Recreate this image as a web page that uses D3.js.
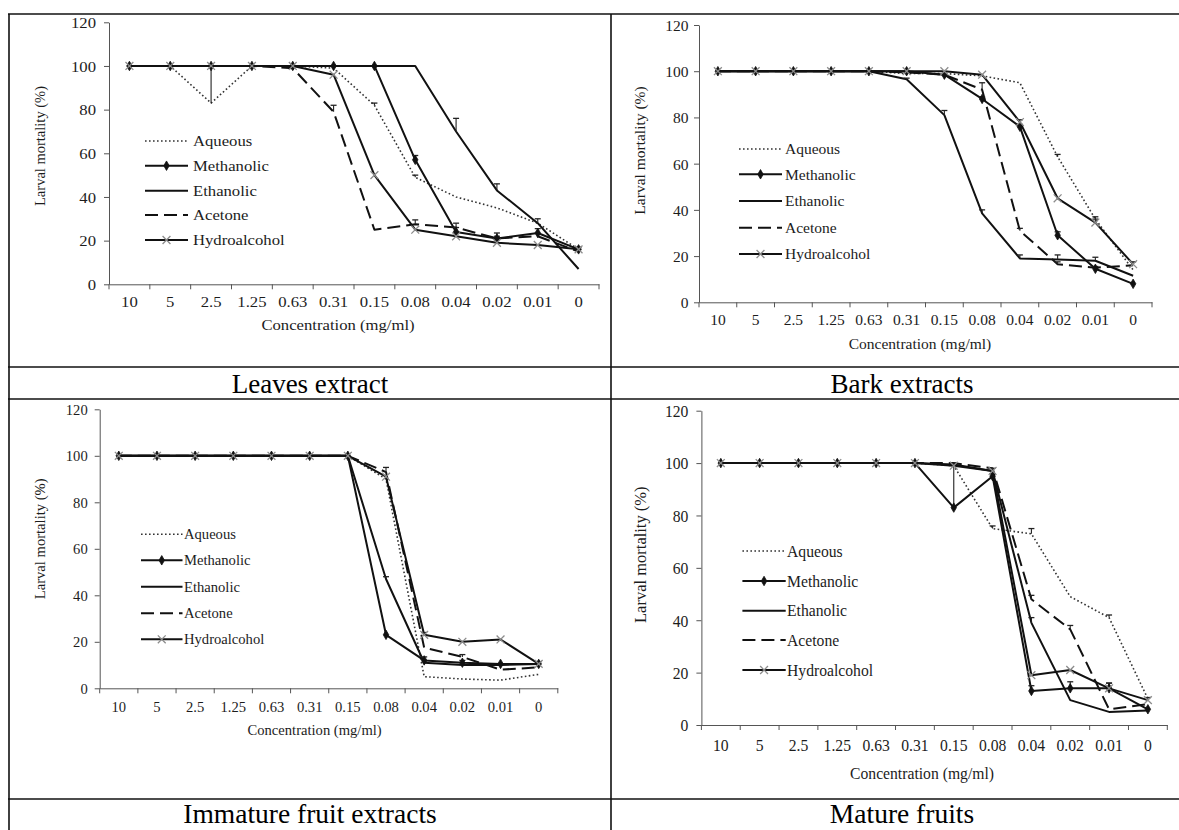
<!DOCTYPE html>
<html>
<head>
<meta charset="utf-8">
<script src="https://cdn.jsdelivr.net/npm/d3@7"></script>
<style>
  html, body { margin: 0; padding: 0; background: #fff; }
  svg { display: block; }
</style>
</head>
<body>
<svg id="chart" width="1179" height="830"></svg>
<script>
// ---- shared labels ----
const categories = ["10", "5", "2.5", "1.25", "0.63", "0.31", "0.15", "0.08", "0.04", "0.02", "0.01", "0"];
const yTickValues = [0, 20, 40, 60, 80, 100, 120];
const seriesNames = ["Aqueous", "Methanolic", "Ethanolic", "Acetone", "Hydroalcohol"];
const panelTitles = ["Leaves extract", "Bark extracts", "Immature fruit extracts", "Mature fruits"];
const yAxisTitle = "Larval mortality (%)";
const xAxisTitle = "Concentration (mg/ml)";

// ---- Leaves extract: larval mortality (%) ----
const leavesAqueous      = [100, 100, 83, 100, 100, 99, 82, 49, 40, 35, 28, 16];
const leavesMethanolic   = [100, 100, 100, 100, 100, 100, 100, 57, 24, 21, 23.5, 16];
const leavesEthanolic    = [100, 100, 100, 100, 100, 100, 100, 100, 70, 43, 28, 7];
const leavesAcetone      = [100, 100, 100, 100, 99, 79, 25, 27.5, 26, 21, 22, 15];
const leavesHydroalcohol = [100, 100, 100, 100, 100, 96, 50, 25, 22, 19, 18, 16];
const leavesAqueousErr      = [0, 0, 17, 0, 0, 0, 1, 1, 0, 0, 0, 0];
const leavesMethanolicErr   = [0, 0, 0, 0, 0, 0, 0, 2, 2, 2.5, 2, 1];
const leavesEthanolicErr    = [0, 0, 0, 0, 0, 0, 0, 0, 6, 3, 2, 0];
const leavesAcetoneErr      = [0, 0, 0, 0, 0, 3, 0, 2, 2, 1, 0, 0];
const leavesHydroalcoholErr = [0, 0, 0, 0, 0, 0, 0, 0, 0, 0, 0, 0];

// ---- Bark extracts ----
const barkAqueous      = [100, 100, 100, 100, 100, 99, 99, 98, 95, 63, 36, 14];
const barkMethanolic   = [100, 100, 100, 100, 100, 100, 98.5, 88, 76, 29, 14.5, 8];
const barkEthanolic    = [100, 100, 100, 100, 100, 96.5, 81, 38.5, 19, 18.5, 18, 11.5];
const barkAcetone      = [100, 100, 100, 100, 100, 99.5, 98.5, 92, 31, 16.5, 15, 16];
const barkHydroalcohol = [100, 100, 100, 100, 100, 100, 100, 98.5, 78, 45, 34.5, 16.5];
const barkAqueousErr      = [0, 0, 0, 0, 0, 0, 0, 0, 0, 1, 1, 0];
const barkMethanolicErr   = [0, 0, 0, 0, 0, 0, 0, 1, 1, 1.5, 1, 0];
const barkEthanolicErr    = [0, 0, 0, 0, 0, 0.5, 2, 1.5, 1.5, 2, 1.5, 0];
const barkAcetoneErr      = [0, 0, 0, 0, 0, 0, 0, 3, 1, 1, 0, 0];
const barkHydroalcoholErr = [0, 0, 0, 0, 0, 0, 0, 0, 1, 0, 1.5, 1];

// ---- Immature fruit extracts ----
const immatureAqueous      = [100, 100, 100, 100, 100, 100, 100, 90, 5, 4, 3.5, 6];
const immatureMethanolic   = [100, 100, 100, 100, 100, 100, 100, 23, 12, 11, 10.5, 10.5];
const immatureEthanolic    = [100, 100, 100, 100, 100, 100, 100, 47, 11, 10, 10, 10.5];
const immatureAcetone      = [100, 100, 100, 100, 100, 100, 100, 93, 17.5, 13.5, 8, 9];
const immatureHydroalcohol = [100, 100, 100, 100, 100, 100, 100, 91, 23, 20, 21, 10.5];
const immatureAqueousErr      = [0, 0, 0, 0, 0, 0, 0, 0, 0, 0, 0, 0];
const immatureMethanolicErr   = [0, 0, 0, 0, 0, 0, 0, 0, 1.5, 1, 0, 1];
const immatureEthanolicErr    = [0, 0, 0, 0, 0, 0, 0, 1, 0, 0, 0, 0];
const immatureAcetoneErr      = [0, 0, 0, 0, 0, 0, 0, 2, 0, 1, 0, 0];
const immatureHydroalcoholErr = [0, 0, 0, 0, 0, 0, 0, 0, 1, 0, 0, 0];

// ---- Mature fruits ----
const matureAqueous      = [100, 100, 100, 100, 100, 100, 99, 75, 73, 49, 41, 10];
const matureMethanolic   = [100, 100, 100, 100, 100, 100, 83, 95, 13, 14, 14, 6];
const matureEthanolic    = [100, 100, 100, 100, 100, 100, 99.5, 97, 39, 9.5, 5, 5.5];
const matureAcetone      = [100, 100, 100, 100, 100, 100, 100, 98, 48, 36.5, 6, 8];
const matureHydroalcohol = [100, 100, 100, 100, 100, 100, 99, 97, 19, 21, 14, 9.5];
const matureAqueousErr      = [0, 0, 0, 0, 0, 0, 0, 1, 2, 0, 1, 0];
const matureMethanolicErr   = [0, 0, 0, 0, 0, 0, 17, 1, 2, 2.5, 2, 0];
const matureEthanolicErr    = [0, 0, 0, 0, 0, 0, 0, 1, 2, 0, 0, 0];
const matureAcetoneErr      = [0, 0, 0, 0, 0, 0, 0, 0, 1.5, 1.5, 0, 0];
const matureHydroalcoholErr = [0, 0, 0, 0, 0, 0, 0, 0, 0, 0, 2, 1];

// ---- assemble panels ----
function makeSeries(values, errors) {
  return seriesNames.map((name, i) => ({ name, values: values[i], errors: errors[i] }));
}
const panelSeries = [
  makeSeries([leavesAqueous, leavesMethanolic, leavesEthanolic, leavesAcetone, leavesHydroalcohol],
             [leavesAqueousErr, leavesMethanolicErr, leavesEthanolicErr, leavesAcetoneErr, leavesHydroalcoholErr]),
  makeSeries([barkAqueous, barkMethanolic, barkEthanolic, barkAcetone, barkHydroalcohol],
             [barkAqueousErr, barkMethanolicErr, barkEthanolicErr, barkAcetoneErr, barkHydroalcoholErr]),
  makeSeries([immatureAqueous, immatureMethanolic, immatureEthanolic, immatureAcetone, immatureHydroalcohol],
             [immatureAqueousErr, immatureMethanolicErr, immatureEthanolicErr, immatureAcetoneErr, immatureHydroalcoholErr]),
  makeSeries([matureAqueous, matureMethanolic, matureEthanolic, matureAcetone, matureHydroalcohol],
             [matureAqueousErr, matureMethanolicErr, matureEthanolicErr, matureAcetoneErr, matureHydroalcoholErr])
];

// ---- layout of each chart inside its table cell ----
const layout = [
  { left: 109, right: 599, top: 22.3, bottom: 284.3, font: 14.5, sx: 1.15,
    yTitle: [40, 146], xTitle: [338, 325], yGap: 13, xGap: 17.4,
    legendLine: [145, 188], legendText: 193, legendY: [141, 165.7, 190.7, 215, 240] },
  { left: 699, right: 1152, top: 25, bottom: 302.3, font: 15.5, sx: 1.0,
    yTitle: [640, 150.5], xTitle: [920, 343.3], yGap: 10.5, xGap: 17.7,
    legendLine: [739, 782], legendText: 785, legendY: [149, 174.3, 201, 227.7, 254] },
  { left: 99.7, right: 557.8, top: 409.3, bottom: 688.3, font: 14.6, sx: 1.0,
    yTitle: [39.5, 538.8], xTitle: [314.6, 730], yGap: 12, xGap: 18.4,
    legendLine: [141, 182.5], legendText: 184, legendY: [534.3, 560.3, 586.7, 613.3, 639.3] },
  { left: 701.4, right: 1167.3, top: 410.7, bottom: 725, font: 16.5, sx: 0.95,
    yTitle: [640, 554.7], xTitle: [922, 773.3], yGap: 13, xGap: 20,
    legendLine: [742.4, 785.7], legendText: 787, legendY: [551, 581, 610.7, 640, 670] }
];

const captions = [
  { x: 310, y: 383.8, size: 27 },
  { x: 902, y: 383.8, size: 27 },
  { x: 310, y: 813.5, size: 27.5 },
  { x: 902, y: 813.5, size: 27.5 }
];

const seriesStyle = {
  Aqueous:      { dash: "1.6 2.4", width: 1.6, color: "#333", marker: null },
  Methanolic:   { dash: null,      width: 2,   color: "#111", marker: "diamond" },
  Ethanolic:    { dash: null,      width: 2,   color: "#111", marker: null },
  Acetone:      { dash: "13 6",    width: 2,   color: "#111", marker: null },
  Hydroalcohol: { dash: null,      width: 2,   color: "#111", marker: "cross" }
};

const FONT = "'Liberation Serif', 'Times New Roman', Times, serif";
const TEXT = "#1c1c1c";
const svg = d3.select("#chart").style("font-family", FONT);
svg.append("rect").attr("width", 1179).attr("height", 830).attr("fill", "#fff");

// ---- table grid ----
const grid = svg.append("g").attr("stroke", "#111").attr("stroke-width", 1.6);
grid.append("line").attr("x1", 8).attr("x2", 1179).attr("y1", 14).attr("y2", 14);
[367, 399, 799].forEach(y => grid.append("line").attr("x1", 8).attr("x2", 1179).attr("y1", y).attr("y2", y));
grid.append("line").attr("x1", 9).attr("x2", 9).attr("y1", 14).attr("y2", 830);
grid.append("line").attr("x1", 611).attr("x2", 611).attr("y1", 14).attr("y2", 830);

captions.forEach((c, i) => {
  svg.append("text")
    .attr("x", c.x).attr("y", c.y).attr("dy", "0.35em")
    .attr("text-anchor", "middle")
    .attr("font-size", c.size).attr("fill", "#000")
    .text(panelTitles[i]);
});

// ---- marker helpers ----
function drawMarker(g, kind, x, y) {
  if (kind === "diamond") {
    g.append("path")
      .attr("d", d3.symbol(d3.symbolDiamond, 26)())
      .attr("transform", `translate(${x},${y})`)
      .attr("fill", "#111").attr("stroke", "#111").attr("stroke-width", 0.8);
  } else if (kind === "cross") {
    g.append("path")
      .attr("d", d3.symbol(d3.symbolX, 42)())
      .attr("transform", `translate(${x},${y})`)
      .attr("fill", "none").attr("stroke", "#8c8c8c").attr("stroke-width", 1.3);
  }
}

function stretched(g, x, y, str, size, sx, anchor) {
  return g.append("text")
    .attr("transform", `translate(${x},${y}) scale(${sx},1)`)
    .attr("dy", "0.35em")
    .attr("text-anchor", anchor)
    .attr("font-size", size)
    .attr("fill", TEXT)
    .text(str);
}

// ---- draw each chart ----
layout.forEach((L, p) => {
  const g = svg.append("g");
  const x = d3.scaleBand().domain(categories).range([L.left, L.right]).paddingInner(0).paddingOuter(0);
  const y = d3.scaleLinear().domain([0, 120]).range([L.bottom, L.top]);
  const cx = c => x(c) + x.bandwidth() / 2;

  // y axis
  const yAxis = g.append("g")
    .attr("transform", `translate(${L.left},0)`)
    .call(d3.axisLeft(y).tickValues(yTickValues).tickSize(5).tickSizeOuter(0));
  yAxis.select(".domain").attr("stroke", "#555");
  yAxis.selectAll(".tick line").attr("stroke", "#555");
  yAxis.selectAll(".tick text")
    .attr("x", -L.yGap / L.sx).attr("dy", "0.35em")
    .attr("transform", `scale(${L.sx},1)`)
    .attr("font-size", L.font).attr("font-family", FONT).attr("fill", TEXT);

  // x axis: labels at category centres, ticks at category boundaries
  const xAxis = g.append("g")
    .attr("transform", `translate(0,${L.bottom})`)
    .call(d3.axisBottom(x).tickSize(0).tickSizeOuter(0));
  xAxis.select(".domain").attr("stroke", "#555");
  xAxis.selectAll(".tick text")
    .attr("y", L.xGap).attr("dy", "0.35em")
    .attr("transform", `scale(${L.sx},1)`)
    .attr("font-size", L.font).attr("font-family", FONT).attr("fill", TEXT);
  const bounds = categories.map(c => x(c)).concat([x.range()[1]]);
  g.append("g").selectAll("line").data(bounds).join("line")
    .attr("x1", d => d).attr("x2", d => d)
    .attr("y1", L.bottom).attr("y2", L.bottom + 5)
    .attr("stroke", "#555");

  // axis titles
  g.append("text")
    .attr("transform", `translate(${L.yTitle[0]},${L.yTitle[1]}) rotate(-90)`)
    .attr("dy", "0.35em").attr("text-anchor", "middle")
    .attr("font-size", L.font).attr("fill", TEXT)
    .text(yAxisTitle);
  stretched(g, L.xTitle[0], L.xTitle[1], xAxisTitle, L.font, L.sx, "middle");

  // series lines
  const series = panelSeries[p];
  const line = d3.line().x((d, i) => cx(categories[i])).y(d => y(d));
  series.forEach(s => {
    const st = seriesStyle[s.name];
    g.append("path")
      .datum(s.values)
      .attr("d", line)
      .attr("fill", "none")
      .attr("stroke", st.color)
      .attr("stroke-width", st.width)
      .attr("stroke-linejoin", "round")
      .attr("stroke-dasharray", st.dash);
  });

  // positive error bars
  series.forEach(s => {
    s.values.forEach((v, i) => {
      const e = s.errors[i];
      if (!e) return;
      const px = cx(categories[i]);
      g.append("line").attr("x1", px).attr("x2", px)
        .attr("y1", y(v)).attr("y2", y(v + e))
        .attr("stroke", "#222").attr("stroke-width", 1.1);
      g.append("line").attr("x1", px - 3).attr("x2", px + 3)
        .attr("y1", y(v + e)).attr("y2", y(v + e))
        .attr("stroke", "#222").attr("stroke-width", 1.3);
    });
  });

  // markers
  series.forEach(s => {
    const st = seriesStyle[s.name];
    if (!st.marker) return;
    s.values.forEach((v, i) => drawMarker(g, st.marker, cx(categories[i]), y(v)));
  });

  // legend
  series.forEach((s, k) => {
    const st = seriesStyle[s.name];
    const ly = L.legendY[k];
    g.append("line")
      .attr("x1", L.legendLine[0]).attr("x2", L.legendLine[1])
      .attr("y1", ly).attr("y2", ly)
      .attr("stroke", st.color).attr("stroke-width", st.width)
      .attr("stroke-dasharray", st.dash);
    if (st.marker) drawMarker(g, st.marker, (L.legendLine[0] + L.legendLine[1]) / 2, ly);
    stretched(g, L.legendText, ly, s.name, L.font, L.sx, "start");
  });
});
</script>
</body>
</html>
